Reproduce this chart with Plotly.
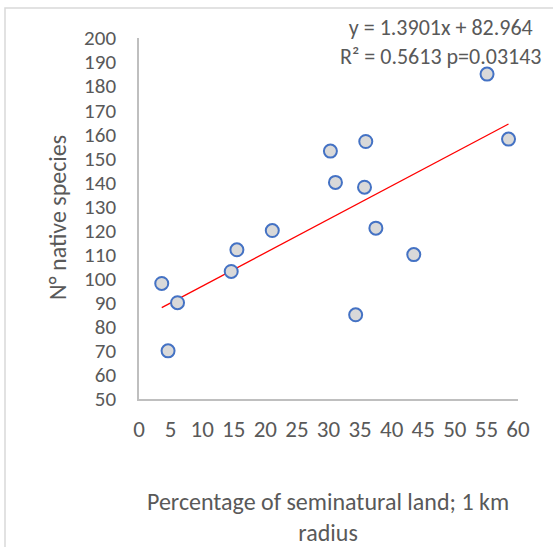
import plotly.graph_objects as go

# Percentage of seminatural land within 1 km vs. number of native species
seminatural_pct = [3.6, 4.6, 6.1, 14.6, 15.5, 21.1, 30.3, 31.1, 34.3, 35.7, 35.9, 37.5, 43.5, 55.1, 58.5]
native_species = [98, 70, 90, 103, 112, 120, 153, 140, 85, 138, 157, 121, 110, 185, 158]

# Linear fit reported on the chart
slope = 1.3901
intercept = 82.964
r_squared = 0.5613
p_value = 0.03143

x_ticks = list(range(0, 61, 5))
y_ticks = list(range(50, 201, 10))

FONT = "Calibri, Carlito, Lato, sans-serif"
TEXT = "#595959"

x_fit = [min(seminatural_pct), max(seminatural_pct)]
y_fit = [slope * v + intercept for v in x_fit]

fig = go.Figure()
fig.add_trace(go.Scatter(
    x=x_fit, y=y_fit, mode="lines",
    line=dict(color="#ff0000", width=1.3),
    hoverinfo="skip", showlegend=False,
))
fig.add_trace(go.Scatter(
    x=seminatural_pct, y=native_species, mode="markers",
    marker=dict(size=13, color="#d9d9d9", line=dict(color="#4472c4", width=2)),
    showlegend=False,
))

W, H = 553, 547
L, R, T, B = 139, 35, 38, 148
pw, ph = W - L - R, H - T - B


def px_x(p):
    return (p - L) / pw


def px_y(p):
    return (H - B - p) / ph


fig.update_layout(
    width=W, height=H,
    margin=dict(l=L, r=R, t=T, b=B),
    paper_bgcolor="white", plot_bgcolor="white",
    font=dict(family=FONT, size=22, color=TEXT),
    xaxis=dict(
        range=[0, 60], tickvals=x_ticks, showgrid=False, zeroline=False,
        showline=True, linecolor="#bfbfbf", linewidth=1.5,
        ticks="outside", ticklen=9, tickcolor="rgba(0,0,0,0)",
        tickfont=dict(family=FONT, size=23, color=TEXT),
    ),
    yaxis=dict(
        range=[50, 200], tickvals=y_ticks, showgrid=False, zeroline=False,
        showline=True, linecolor="#bfbfbf", linewidth=1.5,
        ticks="outside", ticklen=17, tickcolor="rgba(0,0,0,0)",
        tickfont=dict(family=FONT, size=21, color=TEXT),
    ),
    shapes=[dict(
        type="rect", xref="paper", yref="paper",
        x0=px_x(5), x1=px_x(700), y0=px_y(700), y1=px_y(8),
        line=dict(color="#d9d9d9", width=1.5), fillcolor="rgba(0,0,0,0)",
        layer="below",
    )],
    annotations=[
        dict(text="N° native species", xref="paper", yref="paper",
             x=px_x(57), y=px_y(218), textangle=-90, showarrow=False,
             xanchor="center", yanchor="middle",
             font=dict(family=FONT, size=24, color=TEXT)),
        dict(text="Percentage of seminatural land; 1 km<br>radius",
             xref="paper", yref="paper", x=px_x(328), y=px_y(517),
             showarrow=False, xanchor="center", yanchor="middle",
             font=dict(family=FONT, size=24, color=TEXT)),
        dict(text=f"y = {slope}x + {intercept}<br>R² = {r_squared} p={p_value}",
             xref="paper", yref="paper", x=px_x(441), y=px_y(42),
             showarrow=False, xanchor="center", yanchor="middle",
             font=dict(family=FONT, size=22, color=TEXT)),
    ],
)

fig.write_html("out.html")
